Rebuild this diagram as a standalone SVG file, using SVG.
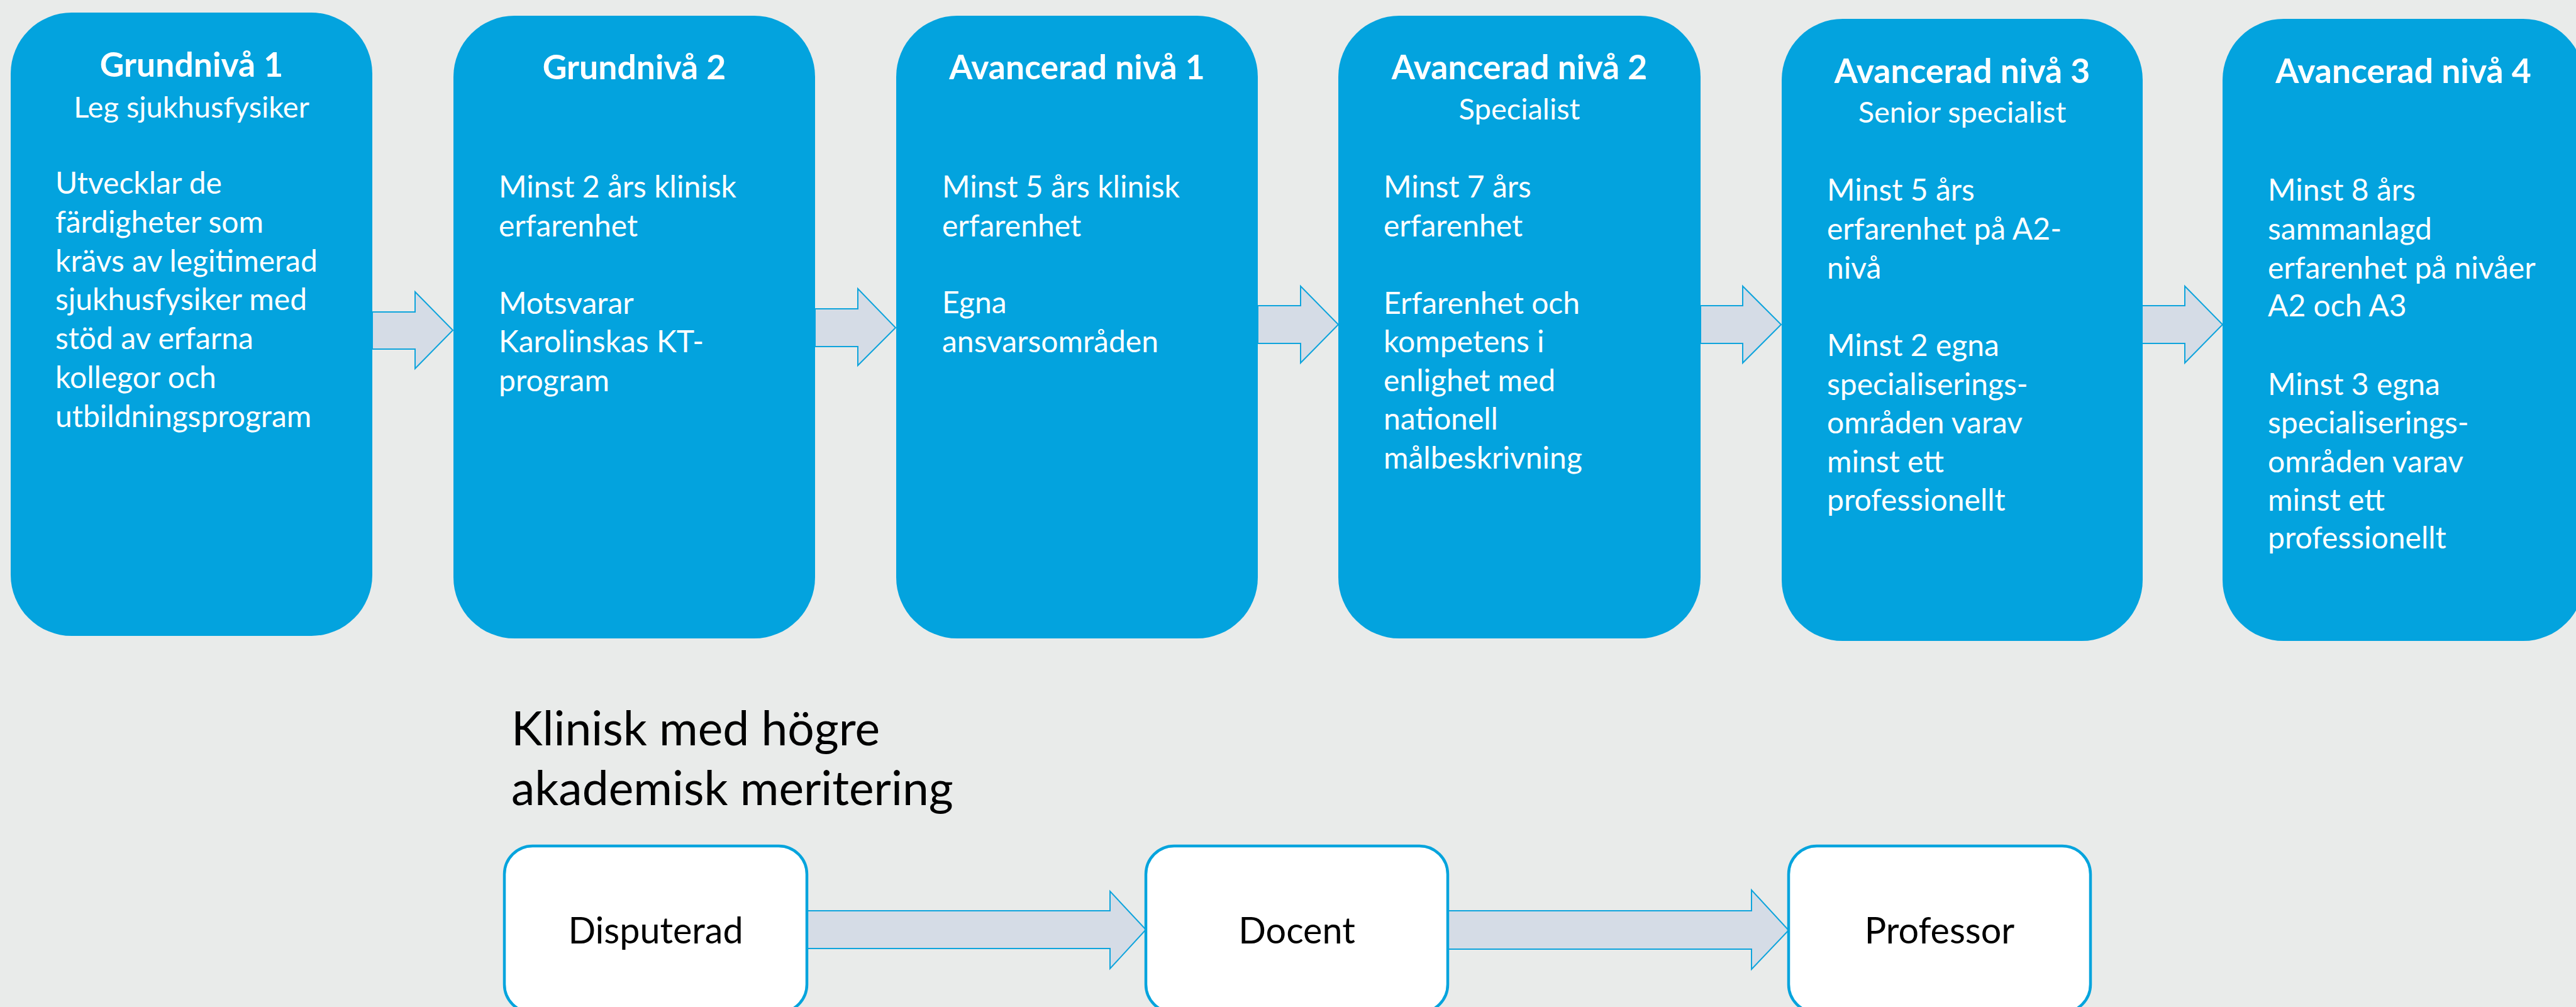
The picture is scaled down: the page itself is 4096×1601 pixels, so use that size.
<svg xmlns="http://www.w3.org/2000/svg" width="4096" height="1601" viewBox="0 0 4096 1601">
<style>
.bg{fill:#e9ebea}
.box{fill:#03a3de}
.wbox{fill:#ffffff;stroke:#05a4dd;stroke-width:4.5}
.arr{fill:#d5dce6;stroke:#0ea4dc;stroke-width:2}
.t{font-family:Lato,"Liberation Sans",sans-serif;fill:#ffffff;font-size:48px}
.h{font-family:Lato,"Liberation Sans",sans-serif;fill:#ffffff;font-size:53.5px;font-weight:bold;text-anchor:middle}
.s{font-family:Lato,"Liberation Sans",sans-serif;fill:#ffffff;font-size:47px;text-anchor:middle}
.k{font-family:Lato,"Liberation Sans",sans-serif;fill:#000000;font-size:75px}
.l{font-family:Lato,"Liberation Sans",sans-serif;fill:#000000;font-size:57.5px;text-anchor:middle}
</style>
<rect class="bg" x="0" y="0" width="4096" height="1601"/>
<g id="connectors">
<path class="arr" d="M592,496 L660,496 L660,464 L720,525 L660,586 L660,555 L592,555 Z"/>
<path class="arr" d="M1296,491 L1364,491 L1364,459 L1424,521 L1364,581 L1364,551 L1296,551 Z"/>
<path class="arr" d="M2000,486 L2068,486 L2068,455 L2128,516 L2068,577 L2068,546 L2000,546 Z"/>
<path class="arr" d="M2704,486 L2771,486 L2771,455 L2832,516 L2771,577 L2771,546 L2704,546 Z"/>
<path class="arr" d="M3406,486 L3474,486 L3474,455 L3534,516 L3474,577 L3474,546 L3406,546 Z"/>
<path class="arr" d="M1283,1448 L1765,1448 L1765,1417 L1822,1478 L1765,1540 L1765,1508 L1283,1508 Z"/>
<path class="arr" d="M2302,1448 L2785,1448 L2785,1415 L2844,1479 L2785,1541 L2785,1509 L2302,1509 Z"/>
</g>
<g id="g1">
<rect class="box" x="17" y="20" width="575" height="991" rx="97" ry="97"/>
<text class="h" x="304.5" y="122">Grundnivå 1</text>
<text class="s" x="304.5" y="187">Leg sjukhusfysiker</text>
<text class="t"><tspan x="88" y="308">Utvecklar de</tspan><tspan x="88" y="370">färdigheter som</tspan><tspan x="88" y="432">krävs av legitimerad</tspan><tspan x="88" y="493">sjukhusfysiker med</tspan><tspan x="88" y="555">stöd av erfarna</tspan><tspan x="88" y="617">kollegor och</tspan><tspan x="88" y="679">utbildningsprogram</tspan></text>
</g>
<g id="g2">
<rect class="box" x="721" y="25" width="575" height="990" rx="97" ry="97"/>
<text class="h" x="1008.5" y="126">Grundnivå 2</text>
<text class="t"><tspan x="793" y="314">Minst 2 års klinisk</tspan><tspan x="793" y="376">erfarenhet</tspan><tspan x="793" y="499">Motsvarar</tspan><tspan x="793" y="560">Karolinskas KT-</tspan><tspan x="793" y="622">program</tspan></text>
</g>
<g id="a1">
<rect class="box" x="1425" y="25" width="575" height="990" rx="97" ry="97"/>
<text class="h" x="1712.5" y="126">Avancerad nivå 1</text>
<text class="t"><tspan x="1498" y="314">Minst 5 års klinisk</tspan><tspan x="1498" y="376">erfarenhet</tspan><tspan x="1498" y="498">Egna</tspan><tspan x="1498" y="560">ansvarsområden</tspan></text>
</g>
<g id="a2">
<rect class="box" x="2128" y="25" width="576" height="990" rx="97" ry="97"/>
<text class="h" x="2416" y="126">Avancerad nivå 2</text>
<text class="s" x="2416" y="190">Specialist</text>
<text class="t"><tspan x="2200" y="314">Minst 7 års</tspan><tspan x="2200" y="376">erfarenhet</tspan><tspan x="2200" y="499">Erfarenhet och</tspan><tspan x="2200" y="560">kompetens i</tspan><tspan x="2200" y="622">enlighet med</tspan><tspan x="2200" y="683">nationell</tspan><tspan x="2200" y="745">målbeskrivning</tspan></text>
</g>
<g id="a3">
<rect class="box" x="2833" y="30" width="574" height="989" rx="97" ry="97"/>
<text class="h" x="3120" y="132">Avancerad nivå 3</text>
<text class="s" x="3120" y="195">Senior specialist</text>
<text class="t"><tspan x="2905" y="319">Minst 5 års</tspan><tspan x="2905" y="381">erfarenhet på A2-</tspan><tspan x="2905" y="443">nivå</tspan><tspan x="2905" y="566">Minst 2 egna</tspan><tspan x="2905" y="628">specialiserings-</tspan><tspan x="2905" y="689">områden varav</tspan><tspan x="2905" y="751">minst ett</tspan><tspan x="2905" y="812">professionellt</tspan></text>
</g>
<g id="a4">
<rect class="box" x="3534" y="30" width="575" height="989" rx="97" ry="97"/>
<text class="h" x="3821.5" y="132">Avancerad nivå 4</text>
<text class="t"><tspan x="3606" y="319">Minst 8 års</tspan><tspan x="3606" y="381">sammanlagd</tspan><tspan x="3606" y="443">erfarenhet på nivåer</tspan><tspan x="3606" y="503">A2 och A3</tspan><tspan x="3606" y="628">Minst 3 egna</tspan><tspan x="3606" y="689">specialiserings-</tspan><tspan x="3606" y="751">områden varav</tspan><tspan x="3606" y="812">minst ett</tspan><tspan x="3606" y="872">professionellt</tspan></text>
</g>
<g id="heading">
<text class="k"><tspan x="813" y="1185">Klinisk med högre</tspan><tspan x="813" y="1280">akademisk meritering</tspan></text>
</g>
<g id="disputerad">
<rect class="wbox" x="802" y="1345" width="481" height="265" rx="45" ry="45"/>
<text class="l" x="1042.5" y="1500">Disputerad</text>
</g>
<g id="docent">
<rect class="wbox" x="1822" y="1345" width="480" height="265" rx="45" ry="45"/>
<text class="l" x="2062" y="1500">Docent</text>
</g>
<g id="professor">
<rect class="wbox" x="2844" y="1345" width="480" height="265" rx="45" ry="45"/>
<text class="l" x="3084" y="1500">Professor</text>
</g>
</svg>
